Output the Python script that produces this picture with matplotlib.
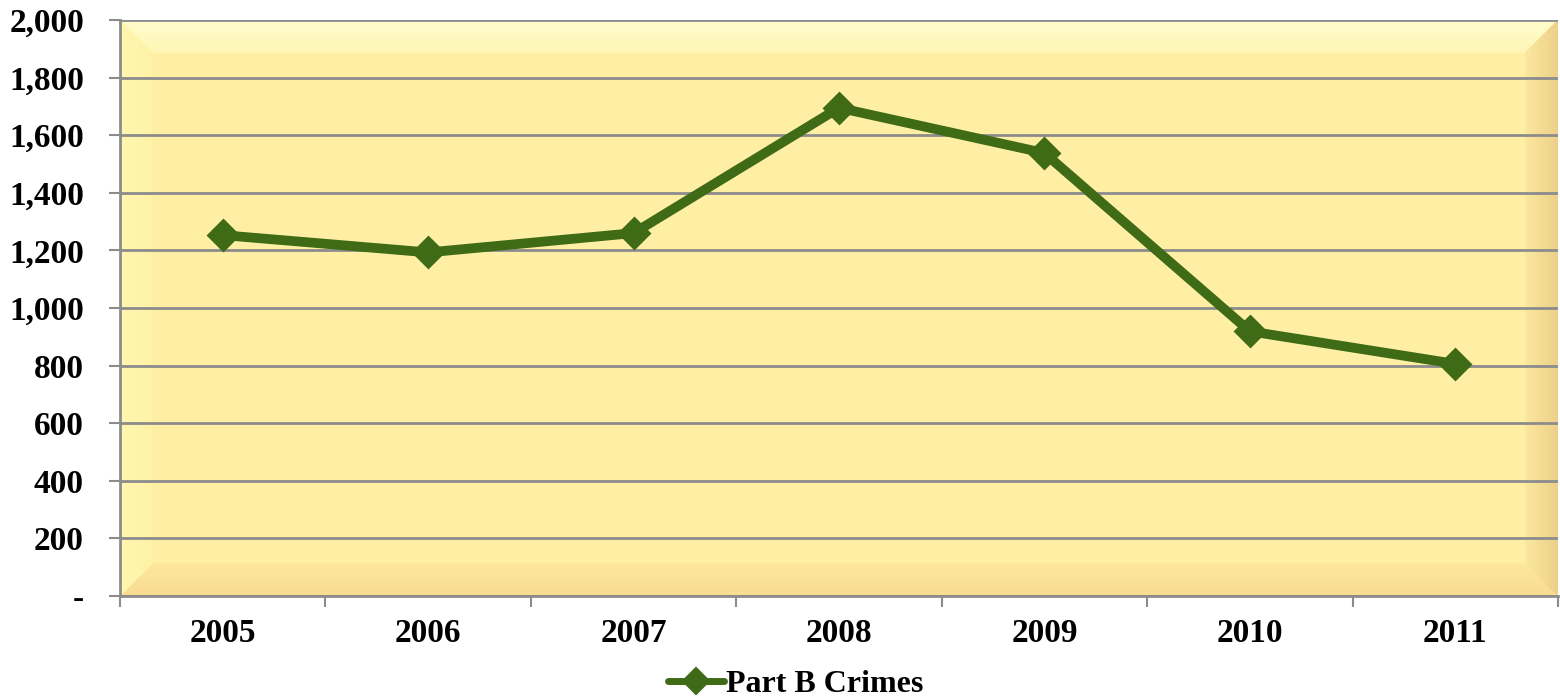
import numpy as np
import matplotlib
matplotlib.use("Agg")
import matplotlib.pyplot as plt
from matplotlib.ticker import FuncFormatter
from matplotlib.lines import Line2D

years = ["2005", "2006", "2007", "2008", "2009", "2010", "2011"]
crimes = [1253, 1193, 1260, 1695, 1538, 919, 806]
series_name = "Part B Crimes"
yticks = list(range(0, 2001, 200))

plt.rcParams['font.family'] = ['Liberation Serif', 'DejaVu Serif']
plt.rcParams['font.weight'] = 'bold'

W, H = 1560, 697
fig = plt.figure(figsize=(W / 100, H / 100), dpi=100)
L, T, R, B = 120, 20, 1558, 596
ax = fig.add_axes([L / W, 1 - B / H, (R - L) / W, (B - T) / H])

# bevelled yellow background
ph, pw = B - T, R - L
rr, cc = np.mgrid[0:ph, 0:pw]
dl, dr, dt, db = cc, pw - 1 - cc, rr, ph - 1 - rr
bev = 33
img = np.zeros((ph, pw, 3))
center = np.array([255, 239, 165]) / 255
img[:] = center
d = np.stack([dl, dr, dt, db])
idx = np.argmin(d, axis=0)
mn = np.min(d, axis=0)
cols_out = [np.array([255, 246, 175]), np.array([238, 208, 138]),
            np.array([255, 253, 205]), np.array([248, 220, 146])]
cols_in = [np.array([255, 242, 168]), np.array([252, 232, 160]),
           np.array([255, 246, 180]), np.array([253, 232, 158])]
for k in range(4):
    m = (idx == k) & (mn < bev)
    t = (mn[m] / bev)[:, None]
    img[m] = ((1 - t) * cols_out[k] + t * cols_in[k]) / 255
ax.imshow(img, extent=[0, 1, 0, 1], transform=ax.transAxes, aspect='auto',
          zorder=0, interpolation='bilinear')

line_color = '#3F6B17'
x = np.arange(len(years))
ax.plot(x, crimes, color=line_color, lw=7, marker='D', ms=15,
        mec=line_color, mew=2, solid_joinstyle='round', solid_capstyle='round',
        zorder=3, label=series_name)

ax.set_xlim(-0.5, len(years) - 0.5)
ax.set_ylim(0, 2000)
ax.set_yticks(yticks)
ax.yaxis.set_major_formatter(FuncFormatter(lambda v, p: '-' if v == 0 else f"{int(v):,}"))
ax.set_xticks(x)
ax.set_xticklabels(years)
ax.set_xticks(np.arange(-0.5, len(years)), minor=True)
ax.tick_params(axis='x', which='major', length=0, pad=16, labelsize=24)
ax.tick_params(axis='x', which='minor', length=8, width=1.5, color='#8c8c8c')
ax.tick_params(axis='y', length=8, width=1.5, color='#8c8c8c', pad=18, labelsize=24)
ax.grid(axis='y', color='#8c8c8c', lw=2, zorder=1)
ax.set_axisbelow(True)
for s in ['top', 'right']:
    ax.spines[s].set_visible(False)
for s in ['left', 'bottom']:
    ax.spines[s].set_color('#8c8c8c')
    ax.spines[s].set_linewidth(2)

handle = Line2D([], [], color=line_color, lw=5, marker='D', ms=13,
                mec=line_color, mew=1.5, solid_capstyle='round')
leg = fig.legend([handle], [series_name], loc='lower center',
                 bbox_to_anchor=(0.51, -0.03), frameon=False,
                 prop={'size': 23, 'weight': 'bold'}, handlelength=1.75,
                 handletextpad=0.05, borderaxespad=0.2)
fig.savefig("out.png", dpi=100)
